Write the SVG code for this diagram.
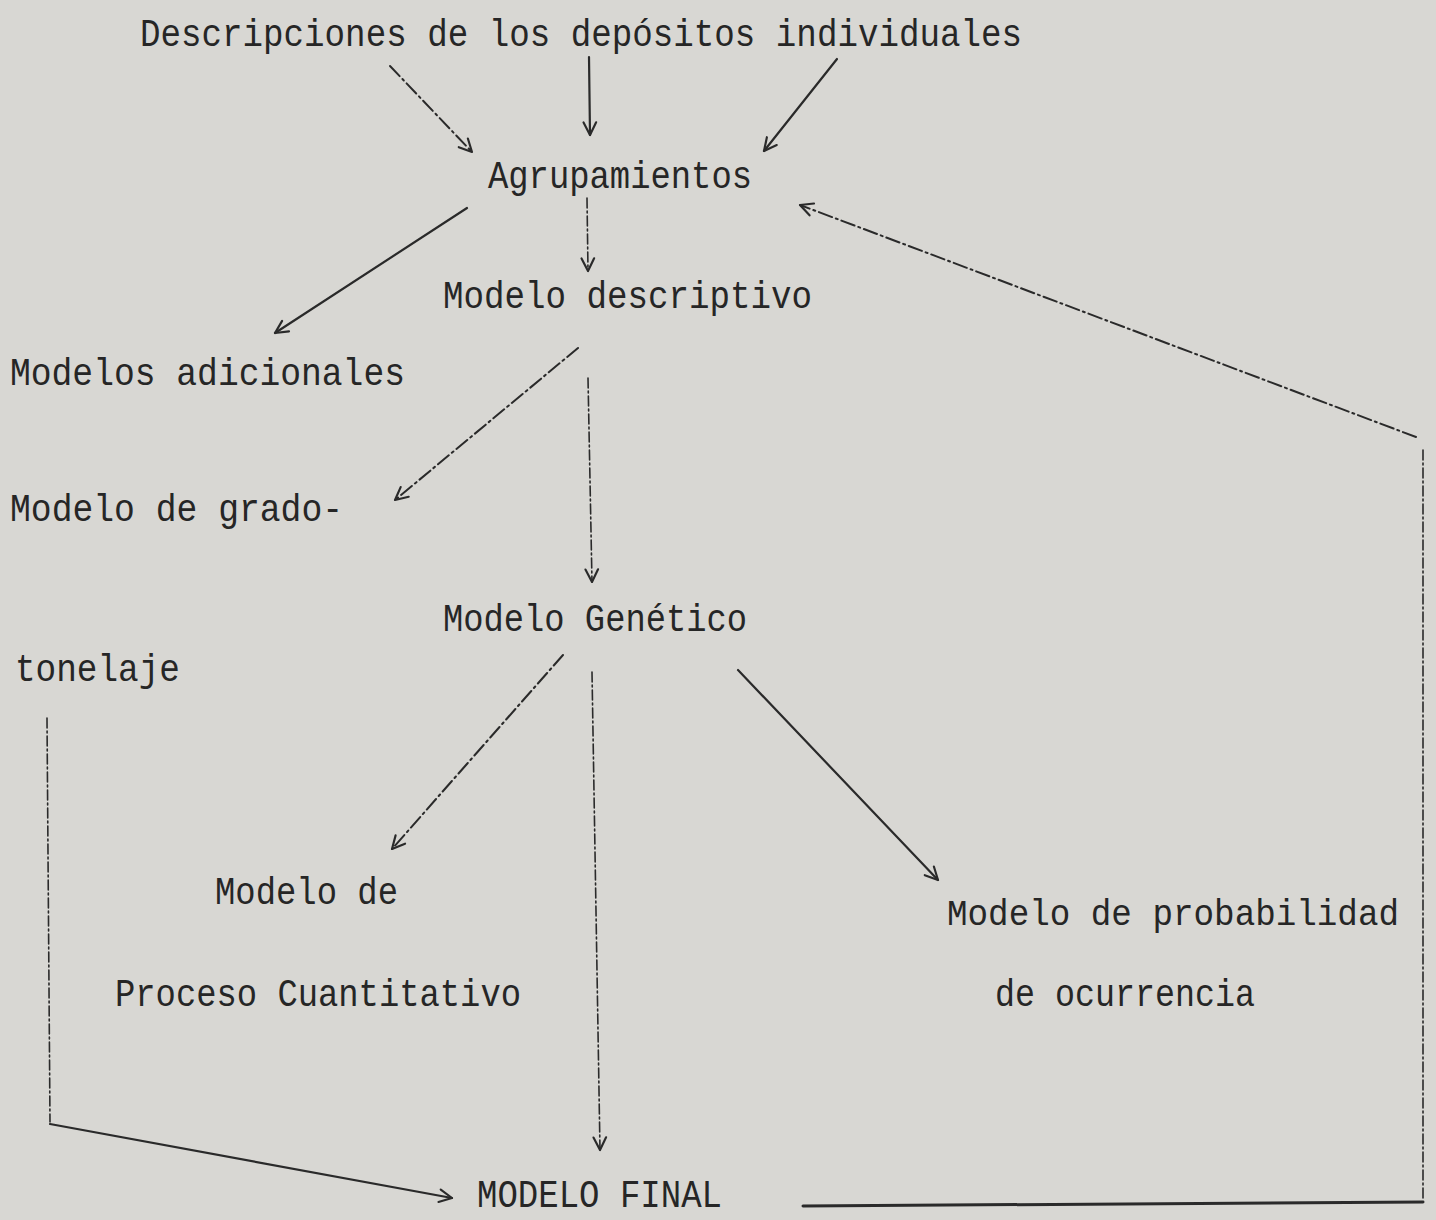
<svg xmlns="http://www.w3.org/2000/svg" width="1436" height="1220" viewBox="0 0 1436 1220">
  <defs>
    <style>
      .lbl { font-family: "Liberation Mono", "DejaVu Sans Mono", monospace; font-size: 38px; fill: #262626; }
      .sm { font-size: 36px; }
      .ln { fill: none; stroke: #2a2a2a; stroke-width: 2; stroke-linecap: round; }
      .solid { stroke-width: 2.2; }
      .dash { stroke-dasharray: 14 4 2 4; }
      .fine { stroke-dasharray: 10 3 2 3; stroke-width: 1.6; }
      .thick { stroke-width: 3; }
    </style>
    <marker id="ah" viewBox="0 0 20 20" refX="18" refY="10" markerWidth="18" markerHeight="18" markerUnits="userSpaceOnUse" orient="auto">
      <path d="M4 3 L18 10 L4 17" fill="none" stroke="#2a2a2a" stroke-width="2.4" stroke-linecap="round" stroke-linejoin="round"/>
    </marker>
  </defs>
  <rect x="0" y="0" width="1436" height="1220" fill="#d8d7d3"/>

  <g id="connectors">
    <line class="ln dash" x1="390" y1="66" x2="472" y2="152" marker-end="url(#ah)"/>
    <line class="ln solid" x1="589" y1="57" x2="590" y2="135" marker-end="url(#ah)"/>
    <line class="ln solid" x1="837" y1="59" x2="764" y2="151" marker-end="url(#ah)"/>
    <line class="ln fine" x1="587" y1="198" x2="588" y2="271" marker-end="url(#ah)"/>
    <line class="ln solid" x1="467" y1="208" x2="275" y2="333" marker-end="url(#ah)"/>
    <line class="ln dash" x1="1416" y1="437" x2="800" y2="205" marker-end="url(#ah)"/>
    <line class="ln fine" x1="1423" y1="450" x2="1423" y2="1198"/>
    <line class="ln thick" x1="803" y1="1206" x2="1423" y2="1202"/>
    <line class="ln dash" x1="578" y1="348" x2="395" y2="500" marker-end="url(#ah)"/>
    <line class="ln fine" x1="588" y1="378" x2="592" y2="582" marker-end="url(#ah)"/>
    <line class="ln dash" x1="563" y1="655" x2="392" y2="849" marker-end="url(#ah)"/>
    <line class="ln fine" x1="592" y1="672" x2="600" y2="1150" marker-end="url(#ah)"/>
    <line class="ln solid" x1="738" y1="670" x2="938" y2="880" marker-end="url(#ah)"/>
    <line class="ln fine" x1="47" y1="718" x2="50" y2="1122"/>
    <polyline class="ln solid" points="50,1124 452,1198" marker-end="url(#ah)"/>
  </g>

  <g id="n-descripciones"><text class="lbl" x="140" y="46" textLength="882" lengthAdjust="spacingAndGlyphs">Descripciones de los depósitos individuales</text></g>
  <g id="n-agrupamientos"><text class="lbl" x="488" y="188" textLength="264" lengthAdjust="spacingAndGlyphs">Agrupamientos</text></g>
  <g id="n-descriptivo"><text class="lbl" x="443" y="308" textLength="369" lengthAdjust="spacingAndGlyphs">Modelo descriptivo</text></g>
  <g id="n-adicionales"><text class="lbl" x="10" y="385" textLength="395" lengthAdjust="spacingAndGlyphs">Modelos adicionales</text></g>
  <g id="n-grado">
    <text class="lbl" x="10" y="521" textLength="333" lengthAdjust="spacingAndGlyphs">Modelo de grado-</text>
    <text class="lbl" x="15" y="681" textLength="165" lengthAdjust="spacingAndGlyphs">tonelaje</text>
  </g>
  <g id="n-genetico"><text class="lbl" x="443" y="631" textLength="304" lengthAdjust="spacingAndGlyphs">Modelo Genético</text></g>
  <g id="n-cuantitativo">
    <text class="lbl" x="215" y="904" textLength="183" lengthAdjust="spacingAndGlyphs">Modelo de</text>
    <text class="lbl" x="115" y="1006" textLength="406" lengthAdjust="spacingAndGlyphs">Proceso Cuantitativo</text>
  </g>
  <g id="n-probabilidad">
    <text class="lbl sm" x="947" y="925" textLength="452" lengthAdjust="spacingAndGlyphs">Modelo de probabilidad</text>
    <text class="lbl" x="995" y="1006" textLength="260" lengthAdjust="spacingAndGlyphs">de ocurrencia</text>
  </g>
  <g id="n-final"><text class="lbl" x="477" y="1207" textLength="245" lengthAdjust="spacingAndGlyphs">MODELO FINAL</text></g>
</svg>
